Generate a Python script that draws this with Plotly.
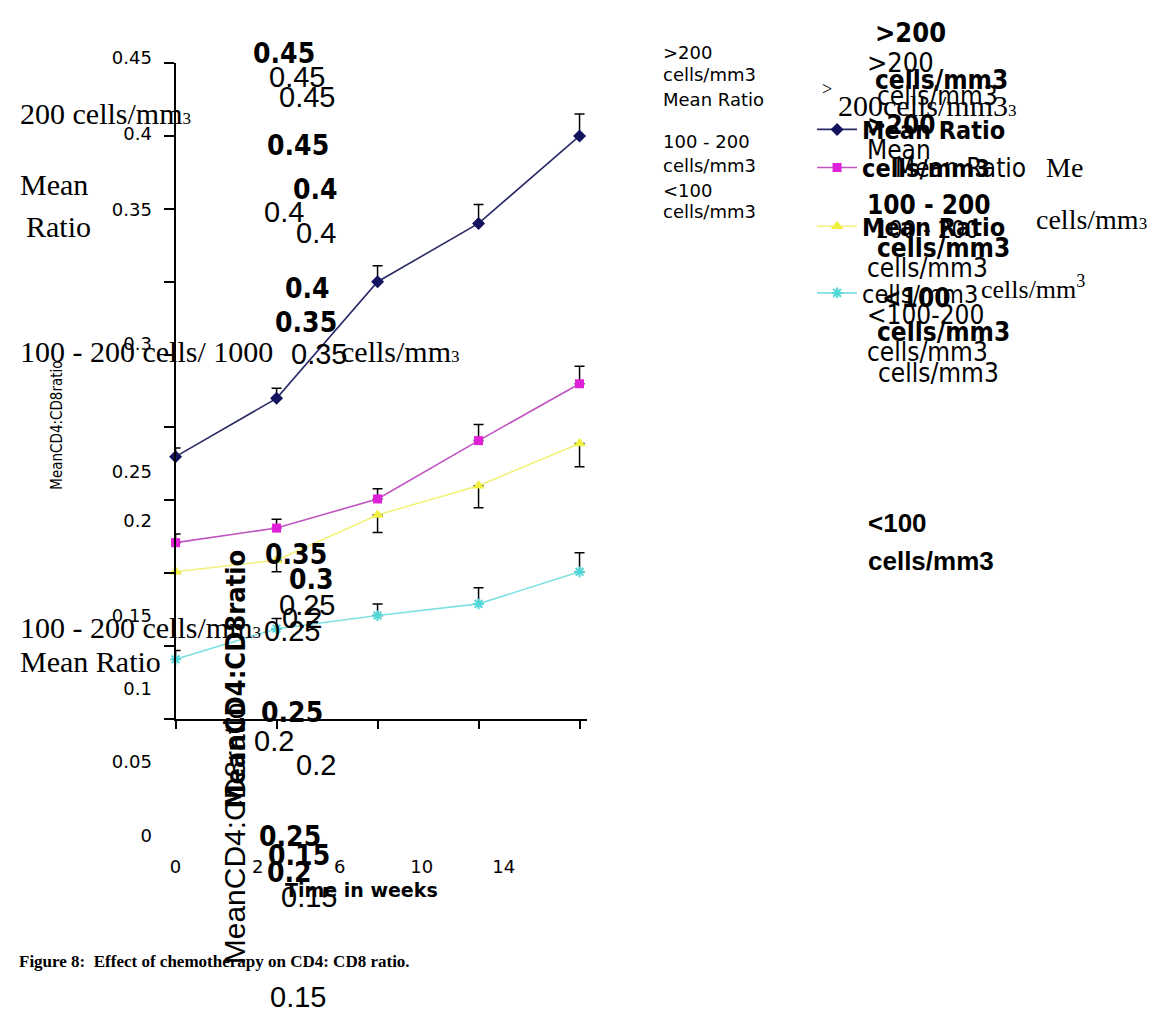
import plotly.graph_objects as go

# ---------------- data ----------------
weeks = ["0", "2", "6", "10", "14"]
week_index = [0, 1, 2, 3, 4]
series_names = ["Mean Ratio", "cells/mm3", "Mean Ratio ", "cells/mm3 "]
gt200 = [0.180, 0.220, 0.300, 0.340, 0.400]
gt200_err = [0.006, 0.007, 0.011, 0.013, 0.015]
mid = [0.121, 0.131, 0.151, 0.191, 0.230]
mid_err = [0.006, 0.006, 0.007, 0.011, 0.012]
low_mid = [0.101, 0.109, 0.140, 0.160, 0.189]
low_mid_err = [0.0, 0.008, 0.012, 0.015, 0.016]
lt100 = [0.041, 0.062, 0.071, 0.079, 0.101]
lt100_err = [0.006, 0.007, 0.008, 0.011, 0.013]
y_ticks = [0, 0.05, 0.1, 0.15, 0.2, 0.25, 0.3, 0.35, 0.4, 0.45]
y_tick_labels = ["0", "0.05", "0.1", "0.15", "0.2", "0.25", "0.3", "0.35", "0.4", "0.45"]

# figure is drawn inside the page's default 8px body margin
W, H = 1154, 1004
M = 8
def fx(px):
    return (px - M) / W
def fy(py):
    return 1 - (py - M) / H

SERIF = "Liberation Serif"
SANS = "Liberation Sans"
NARROW = "DejaVu Sans Condensed, Roboto, Liberation Sans, sans-serif"
WIDE = "DejaVu Sans"

fig = go.Figure()

styles = [
    dict(color="#14145e", line="#2a2a66", symbol="diamond", size=10, up=True),
    dict(color="#e020d8", line="#c054c0", symbol="square", size=9, up=True),
    dict(color="#f0f040", line="#f2f27a", symbol="triangle-up", size=11, up=False),
    dict(color="#50d8d8", line="#7fe0e0", symbol="asterisk-open", size=9, up=True),
]
values = [gt200, mid, low_mid, lt100]
errors = [gt200_err, mid_err, low_mid_err, lt100_err]
legend_rows = [121, 160, 220, 288]
legend_ids = ["legend", "legend2", "legend3", "legend4"]
legend_weights = ["bold", "bold", "bold", "normal"]

for i in range(4):
    st = styles[i]
    zeros = [0] * len(errors[i])
    err = dict(type="data", symmetric=False,
               array=errors[i] if st["up"] else zeros,
               arrayminus=zeros if st["up"] else errors[i],
               color="black", thickness=1.5, width=5)
    marker = dict(symbol=st["symbol"], size=st["size"], color=st["color"])
    if st["symbol"] == "asterisk-open":
        marker = dict(symbol=st["symbol"], size=st["size"], color=st["color"],
                      line=dict(color=st["color"], width=2))
    fig.add_trace(go.Scatter(
        x=week_index, y=values[i], name=series_names[i], mode="lines+markers",
        line=dict(color=st["line"], width=1.6), marker=marker, error_y=err,
        cliponaxis=False, legend=legend_ids[i]))

tick_font = dict(family=WIDE, size=18, color="black")
layout = dict(
    width=W, height=H, margin=dict(l=0, r=0, t=0, b=0),
    paper_bgcolor="white", plot_bgcolor="rgba(0,0,0,0)",
    xaxis=dict(domain=[fx(172), fx(590)], range=[0, 4.078], tickvals=week_index,
               showticklabels=False, ticks="outside", ticklen=8, tickwidth=1.5,
               tickcolor="black", showline=True, linecolor="black", linewidth=1.5,
               showgrid=False, zeroline=False, anchor="y"),
    yaxis=dict(domain=[fy(723), fy(53)], range=[0, 0.45], tickvals=y_ticks,
               showticklabels=False, ticks="outside", ticklen=10, tickwidth=1.5,
               tickcolor="black", showline=True, linecolor="black", linewidth=1.5,
               showgrid=False, zeroline=False, anchor="x"),
    # detached row of week labels
    xaxis2=dict(domain=[fx(172), fx(505)], range=[0, 4], tickvals=week_index,
                ticktext=weeks, anchor="free", position=fy(861), showline=False,
                ticks="", showgrid=False, zeroline=False, tickfont=tick_font),
)
# detached column of ratio labels, split in groups (top value first)
label_groups = [(slice(7, 10), 48, 203), (slice(5, 7), 340, 470),
                (slice(4, 5), 515, 525), (slice(0, 4), 617, 842)]
for k, (sl, top, bottom) in enumerate(label_groups):
    vals = y_ticks[sl]
    lo, hi = vals[0], vals[-1]
    if lo == hi:
        rng = [lo - 0.005, hi + 0.005]
    else:
        rng = [lo, hi]
    name = "yaxis%d" % (k + 2)
    layout[name] = dict(domain=[fy(bottom), fy(top)], range=rng, tickvals=vals,
                        ticktext=y_tick_labels[sl], anchor="free", position=fx(148),
                        side="left", showline=False, ticks="", showgrid=False,
                        zeroline=False, tickfont=tick_font)
    fig.add_trace(go.Scatter(x=[None], y=[None], xaxis="x2", yaxis="y%d" % (k + 2),
                             showlegend=False, hoverinfo="skip"))

for i, lid in enumerate(legend_ids):
    layout[lid] = dict(x=fx(818), y=fy(legend_rows[i]), xanchor="left", yanchor="middle",
                       bgcolor="rgba(0,0,0,0)", borderwidth=0, itemwidth=40,
                       font=dict(family=NARROW, size=25, color="black",
                                 weight=legend_weights[i]))
fig.update_layout(**layout)

annots = []
def ann(text, x, y, size, family, bold=False, xanchor="left", angle=0):
    annots.append(dict(text=text, x=fx(x), y=fy(y), xref="paper", yref="paper",
                       xanchor=xanchor, yanchor="middle", showarrow=False, textangle=angle,
                       font=dict(family=family, size=size, color="black",
                                 weight="bold" if bold else "normal")))

sm = "<span style='font-size:17px'>3</span>"
# left serif texts
ann("200 cells/mm" + sm, 12, 105, 30, SERIF)
ann("Mean", 12, 177, 30, SERIF)
ann("Ratio", 18, 220, 30, SERIF)
ann("100 - 200 cells/ 1000", 12, 348, 30, SERIF)
ann("cells/mm" + sm, 338, 348, 30, SERIF)
ann("100 - 200 cells/mm" + sm, 12, 630, 30, SERIF)
ann("Mean Ratio", 12, 664, 30, SERIF)

# column of overlapping numbers
for t, x, y in [("0.45", 282, 43), ("0.45", 296, 137), ("0.4", 314, 182), ("0.4", 306, 283),
                ("0.35", 304, 318), ("0.35", 294, 555), ("0.3", 310, 580), ("0.25", 290, 716),
                ("0.25", 288, 843), ("0.15", 297, 862), ("0.2", 288, 880)]:
    ann(t, x, y, 28, NARROW, bold=True, xanchor="center")
for t, x, y in [("0.45", 295, 67), ("0.45", 305, 88), ("0.4", 282, 205), ("0.4", 315, 227),
                ("0.35", 318, 350), ("0.25", 305, 607), ("0.2", 300, 620), ("0.25", 290, 633),
                ("0.2", 272, 745), ("0.2", 315, 770), ("0.15", 307, 905), ("0.15", 296, 1007)]:
    ann(t, x, y, 29, SANS, xanchor="center")

# rotated axis titles
ann("MeanCD4:CD8ratio", 52, 423, 15, NARROW, xanchor="center", angle=-90)
ann("MeanCD4:CD8ratio", 233, 682, 27, NARROW, bold=True, xanchor="center", angle=-90)
ann("MeanCD4:CD8ratio", 232, 840, 30, SANS, xanchor="center", angle=-90)

# x title and caption
ann("Time in weeks", 361, 898, 19, WIDE, bold=True, xanchor="center")
ann("Figure 8:  Effect of chemotherapy on CD4: CD8 ratio.", 11, 971, 17, SERIF, bold=True)

# legend area small text block
for t, y in [(">200", 42), ("cells/mm3", 65), ("Mean Ratio", 90), ("100 - 200", 133),
             ("cells/mm3", 158), ("<100", 183), ("cells/mm3", 205)]:
    ann(t, 665, y, 18, WIDE)

# overlapping clutter near legend
ann(">", 826, 80, 18, SERIF)
ann("200cells/mm3" + sm, 842, 96, 30, SERIF)
ann(">200", 880, 22, 27, NARROW, bold=True)
ann(">200", 872, 52, 27, NARROW)
ann("cells/mm3", 880, 70, 26, NARROW, bold=True)
ann("cells/mm3", 882, 87, 26, NARROW)
ann(">200", 872, 116, 26, NARROW, bold=True)
ann("Mean", 872, 142, 26, NARROW)
ann("Mean Ratio", 900, 160, 26, NARROW)
ann("Me", 1053, 160, 28, SERIF)
ann("100 - 200", 872, 198, 26, NARROW, bold=True)
ann("cells/mm" + sm, 1043, 213, 28, SERIF)
ann("100 - 200", 880, 224, 24, NARROW)
ann("cells/mm3", 882, 242, 26, NARROW, bold=True)
ann("cells/mm3", 872, 262, 26, NARROW)
ann("cells/mm<sup>3</sup>", 987, 282, 26, SERIF)
ann("<100", 887, 293, 26, NARROW, bold=True)
ann("<100-200", 872, 310, 26, NARROW)
ann("cells/mm3", 882, 328, 26, NARROW, bold=True)
ann("cells/mm3", 872, 348, 26, NARROW)
ann("cells/mm3", 883, 370, 26, NARROW)
ann("<100", 873, 523, 26, SANS, bold=True)
ann("cells/mm3", 873, 562, 26, SANS, bold=True)

fig.update_layout(annotations=annots)
fig.write_html("out.html", config={"displayModeBar": False})
